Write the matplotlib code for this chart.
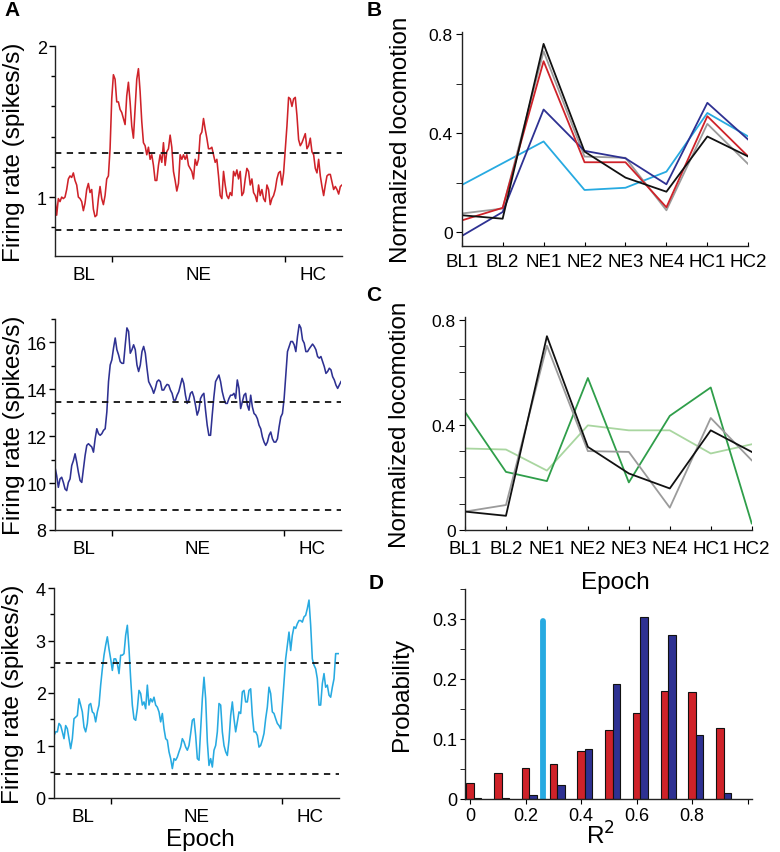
import numpy as np
import matplotlib
matplotlib.use("Agg")
import matplotlib.pyplot as plt
from matplotlib.ticker import FixedLocator

plt.rcParams['font.family'] = ['Liberation Sans', 'DejaVu Sans']

# ---------------- data ----------------
epoch_bounds = [10, 40]
epoch_label_pos = [5, 25, 45]
epoch_labels = ['BL', 'NE', 'HC']

red_rate = [0.99,0.88,0.99,0.97,1.00,0.99,1.00,1.05,1.12,1.14,
1.13,1.16,1.11,1.08,1.00,0.99,0.97,0.91,0.96,1.05,
1.09,1.03,1.05,0.92,0.87,0.88,0.99,1.07,0.99,0.95,
1.01,1.12,1.14,1.32,1.65,1.81,1.78,1.63,1.63,1.58,
1.56,1.52,1.48,1.67,1.76,1.63,1.47,1.39,1.58,1.78,
1.85,1.70,1.50,1.36,1.34,1.28,1.33,1.25,1.28,1.21,
1.11,1.11,1.21,1.28,1.23,1.36,1.21,1.30,1.32,1.41,
1.33,1.17,1.11,1.04,1.09,1.28,1.25,1.28,1.25,1.28,
1.21,1.19,1.17,1.12,1.25,1.21,1.25,1.41,1.43,1.52,
1.45,1.39,1.32,1.32,1.33,1.28,1.23,1.25,1.14,1.01,
0.99,1.17,1.08,1.01,0.99,1.03,1.01,1.17,1.14,1.18,
1.12,1.17,1.01,1.03,1.12,1.19,1.17,1.08,1.12,1.03,
1.01,0.97,1.08,1.01,1.05,0.99,0.97,1.08,1.05,0.95,
0.99,1.01,1.05,1.12,1.16,1.17,1.08,1.16,1.32,1.47,
1.66,1.65,1.60,1.65,1.66,1.54,1.38,1.34,1.36,1.39,
1.42,1.32,1.34,1.39,1.30,1.28,1.19,1.16,1.25,1.14,
1.07,1.01,1.08,1.14,1.15,1.15,1.10,1.05,1.07,1.05,
1.02,1.07,1.08]
red_thresh = [1.29, 0.78]

navy_rate = [10.68,10.32,9.82,10.18,10.25,10.03,9.75,9.68,10.03,10.18,
10.75,10.96,11.25,10.89,10.46,10.11,10.03,10.60,11.18,11.61,
11.68,11.61,11.54,11.32,11.89,12.32,12.11,12.04,12.11,12.25,
12.32,13.04,14.33,15.04,15.26,15.76,16.19,15.69,15.47,15.18,
15.11,15.11,15.90,16.62,16.47,15.54,15.69,15.90,15.69,15.04,
14.76,15.04,15.61,15.83,15.54,14.90,14.33,14.18,14.04,13.83,
14.04,14.33,14.40,14.33,13.97,13.97,14.11,14.21,14.18,13.97,
13.83,13.54,13.54,13.75,13.90,14.18,14.47,14.25,13.75,13.40,
13.54,13.83,13.90,13.68,13.32,12.90,13.11,13.61,13.75,13.83,
13.11,12.47,12.04,12.04,12.90,13.68,14.33,14.47,14.61,14.33,
13.90,13.61,13.40,13.40,13.61,13.75,13.75,13.83,13.61,14.40,
14.04,13.18,13.47,13.75,13.83,13.32,13.11,13.75,13.25,12.97,
12.90,12.75,12.47,12.32,11.97,11.75,11.61,11.75,12.04,12.18,
11.89,11.75,11.75,11.89,12.40,12.82,12.97,13.61,14.61,15.61,
15.83,16.04,16.04,15.90,15.61,16.26,16.76,16.62,16.11,15.97,
15.61,15.61,15.73,15.83,15.93,15.83,15.69,15.40,15.33,15.40,
15.18,14.97,14.68,14.76,14.90,14.83,14.54,14.40,14.18,14.04,
14.18,14.33]
navy_thresh = [13.47, 8.86]

cyan_rate = [1.19,1.26,1.26,1.42,1.38,1.26,1.13,1.38,1.32,1.13,
0.94,1.13,1.51,1.54,1.57,1.89,1.77,1.64,1.35,1.26,
1.42,1.77,1.80,1.64,1.61,1.45,1.64,1.77,2.15,2.46,
2.72,2.91,3.07,2.84,2.65,2.43,2.65,2.65,2.56,2.37,
2.72,2.72,2.75,3.10,3.29,2.84,2.27,1.77,1.51,1.48,
1.70,2.05,1.99,1.77,1.83,1.70,2.15,1.77,1.89,1.83,
1.92,1.77,1.73,1.64,1.45,1.61,1.32,1.13,1.10,0.88,
0.75,0.56,0.75,0.72,0.78,0.88,0.97,1.13,1.07,0.97,
0.91,1.00,1.23,1.48,1.51,1.19,0.75,0.72,1.32,1.89,
2.30,1.89,1.07,0.62,0.75,0.59,0.91,1.00,1.26,1.80,
1.77,1.26,1.00,0.88,0.81,1.10,1.57,1.83,1.51,1.26,
1.45,1.64,1.61,2.02,2.05,1.83,1.83,2.05,2.08,1.57,
1.26,1.26,1.19,0.97,1.00,1.10,1.23,1.51,1.73,2.11,
1.99,1.64,1.61,1.51,1.42,1.38,1.32,1.77,2.21,2.65,
2.91,3.16,2.81,3.10,3.26,3.23,3.32,3.38,3.38,3.35,
3.45,3.48,3.61,3.77,3.29,2.65,2.53,2.46,2.27,1.77,
1.77,2.18,2.37,2.11,2.15,1.96,1.92,2.11,2.27,2.75,
2.75,2.75]
cyan_thresh = [2.57, 0.45]

epochs = ['BL1', 'BL2', 'NE1', 'NE2', 'NE3', 'NE4', 'HC1', 'HC2']
b_black = [0.068, 0.054, 0.76, 0.325, 0.22, 0.163, 0.386, 0.305]
b_gray = [0.075, 0.095, 0.73, 0.305, 0.30, 0.088, 0.437, 0.274]
b_red = [0.047, 0.098, 0.69, 0.282, 0.282, 0.10, 0.468, 0.305]
b_navy = [-0.016, 0.081, 0.495, 0.328, 0.298, 0.193, 0.522, 0.373]
b_cyan = [0.19, 0.278, 0.366, 0.17, 0.179, 0.244, 0.481, 0.386]

c_black = [0.070, 0.054, 0.737, 0.316, 0.215, 0.158, 0.379, 0.297]
c_gray = [0.070, 0.095, 0.701, 0.300, 0.297, 0.085, 0.426, 0.265]
c_dkgreen = [0.449, 0.221, 0.186, 0.578, 0.181, 0.434, 0.542, 0.025]
c_ltgreen = [0.310, 0.306, 0.226, 0.398, 0.379, 0.379, 0.291, 0.326]

r2_bins = [0.0, 0.1, 0.2, 0.3, 0.4, 0.5, 0.6, 0.7, 0.8, 0.9]
prob_red = [0.027, 0.0435, 0.052, 0.059, 0.080, 0.115, 0.143, 0.180, 0.179, 0.118]
prob_navy = [0.001, 0.002, 0.006, 0.024, 0.083, 0.192, 0.304, 0.273, 0.106, 0.0095]
r2_observed = 0.264
r2_observed_height = 0.297

# ---------------- styling ----------------
RED = '#cf2229'
NAVY = '#2e3192'
CYAN = '#27aae1'
GRAY = '#9b9b9b'
BLACK = '#111111'
DKGREEN = '#2f9e4a'
LTGREEN = '#a9d6a0'

W, H = 780, 853
fig = plt.figure(figsize=(W / 100, H / 100), dpi=100)


def px_axes(l, r, t, b):
    ax = fig.add_axes([l / W, 1 - b / H, (r - l) / W, (b - t) / H])
    ax.set_facecolor('none')
    return ax


def style(ax):
    for s in ['top', 'right']:
        ax.spines[s].set_visible(False)
    for s in ['left', 'bottom']:
        ax.spines[s].set_linewidth(1.0)
        ax.spines[s].set_color('#222222')


LBL = 17.5

# ---------------- panel A ----------------
traces = [
    (red_rate, red_thresh, RED, (0.61, 2.0), [1, 2], np.arange(0.8, 2.01, 0.2), (55, 342, 47, 257)),
    (navy_rate, navy_thresh, NAVY, (8, 17), [8, 10, 12, 14, 16], [9, 11, 13, 15, 17], (55, 341, 320, 531)),
    (cyan_rate, cyan_thresh, CYAN, (0, 4), [0, 1, 2, 3, 4], [0.5, 1.5, 2.5, 3.5], (54, 339, 589, 799)),
]
axA = []
for rate, thr, col, ylim, yt, ymt, box in traces:
    ax = px_axes(*box)
    style(ax)
    t = np.linspace(0, 50, len(rate))
    ax.plot(t, rate, color=col, lw=1.15)
    for th in thr:
        ax.axhline(th, color=BLACK, lw=1.3, ls=(0, (3.5, 3)))
    ax.set_xlim(0, 50)
    ax.set_ylim(*ylim)
    ax.set_yticks(yt)
    ax.set_yticklabels([f'{v:g}' for v in yt])
    ax.yaxis.set_minor_locator(FixedLocator(ymt))
    ax.set_xticks(epoch_bounds)
    ax.set_xticklabels([])
    ax.xaxis.set_minor_locator(FixedLocator(epoch_label_pos))
    ax.set_xticklabels(epoch_labels, minor=True)
    ax.tick_params(axis='x', which='minor', length=0, labelsize=13.5, pad=7)
    ax.tick_params(axis='x', which='major', length=4, width=1)
    ax.tick_params(axis='y', which='major', length=4, width=1, labelsize=13, pad=2)
    ax.tick_params(axis='y', which='minor', length=3, width=1)
    ax.set_ylabel('Firing rate (spikes/s)', fontsize=LBL, va='center')
    ax.yaxis.set_label_coords(-0.143, 0.5)
    axA.append(ax)
axA[2].set_xlabel('Epoch', fontsize=LBL, va='center')
axA[2].xaxis.set_label_coords(0.512, -0.195)

# ---------------- panel B ----------------
xs = np.arange(1, len(epochs) + 1)
axB = px_axes(461.7, 748.3, 33, 246.7)
style(axB)
for vals, col in [(b_cyan, CYAN), (b_gray, GRAY), (b_navy, NAVY), (b_red, RED), (b_black, BLACK)]:
    axB.plot(xs, vals, color=col, lw=1.3)
axB.set_xlim(1, 8)
axB.set_ylim(-0.055, 0.808)
axB.set_yticks([0, 0.4, 0.8])
axB.set_yticklabels(['0', '0.4', '0.8'])
axB.yaxis.set_minor_locator(FixedLocator([0.2, 0.6]))
axB.set_xticks(xs)
axB.set_xticklabels(epochs)
axB.tick_params(axis='x', direction='in', length=3, labelsize=13.5, pad=5)
axB.tick_params(axis='y', which='both', length=4.5, labelsize=12.5, pad=2)
axB.set_ylabel('Normalized locomotion', fontsize=LBL, va='center')
axB.yaxis.set_label_coords(-0.213, 0.5)

# ---------------- panel C ----------------
axC = px_axes(465, 751.7, 318, 531)
style(axC)
for vals, col in [(c_ltgreen, LTGREEN), (c_dkgreen, DKGREEN), (c_gray, GRAY), (c_black, BLACK)]:
    axC.plot(xs, vals, color=col, lw=1.3)
axC.set_xlim(1, 8)
axC.set_ylim(0, 0.81)
axC.set_yticks([0, 0.4, 0.8])
axC.set_yticklabels(['0', '0.4', '0.8'])
axC.yaxis.set_minor_locator(FixedLocator([0.1, 0.2, 0.3, 0.5, 0.6, 0.7]))
axC.set_xticks(xs)
axC.set_xticklabels(epochs)
axC.tick_params(axis='x', direction='in', length=3, labelsize=13.5, pad=7)
axC.tick_params(axis='y', which='both', length=4.5, labelsize=12.5, pad=2)
axC.set_ylabel('Normalized locomotion', fontsize=LBL, va='center')
axC.yaxis.set_label_coords(-0.227, 0.5)
axC.set_xlabel('Epoch', fontsize=LBL, va='center')
axC.xaxis.set_label_coords(0.523, -0.2425)

# ---------------- panel D ----------------
axD = px_axes(465, 751.7, 590, 800)
style(axD)
bw = 0.027
bins = np.array(r2_bins)
axD.bar(bins, prob_red, width=bw, color=RED, edgecolor=BLACK, linewidth=0.8)
axD.bar(bins + bw, prob_navy, width=bw, color=NAVY, edgecolor=BLACK, linewidth=0.8)
axD.plot([r2_observed, r2_observed], [0, r2_observed_height], color=CYAN, lw=4.2,
         solid_capstyle='round')
axD.set_xlim(-0.018, 1.014)
axD.set_ylim(0, 0.35)
axD.set_xticks([0, 0.2, 0.4, 0.6, 0.8, 1.0])
axD.set_xticklabels(['0', '0.2', '0.4', '0.6', '0.8', ''])
axD.set_yticks([0, 0.1, 0.2, 0.3])
axD.set_yticklabels(['0', '0.1', '0.2', '0.3'])
axD.yaxis.set_minor_locator(FixedLocator([0.05, 0.15, 0.25, 0.35]))
axD.tick_params(axis='both', which='both', length=3.5, labelsize=13, pad=2)
axD.set_ylabel('Probability', fontsize=LBL, va='center')
axD.yaxis.set_label_coords(-0.221, 0.5)
axD.set_xlabel('R$^2$', fontsize=LBL, va='center')
axD.xaxis.set_label_coords(0.471, -0.17)

# ---------------- panel letters ----------------
for letter, x, y in [('A', 12, 11), ('B', 374, 11), ('C', 374, 296), ('D', 376, 584)]:
    fig.text(x / W, 1 - y / H, letter, fontsize=15, fontweight='bold', ha='center', va='center')

fig.savefig('out.png', dpi=100)
